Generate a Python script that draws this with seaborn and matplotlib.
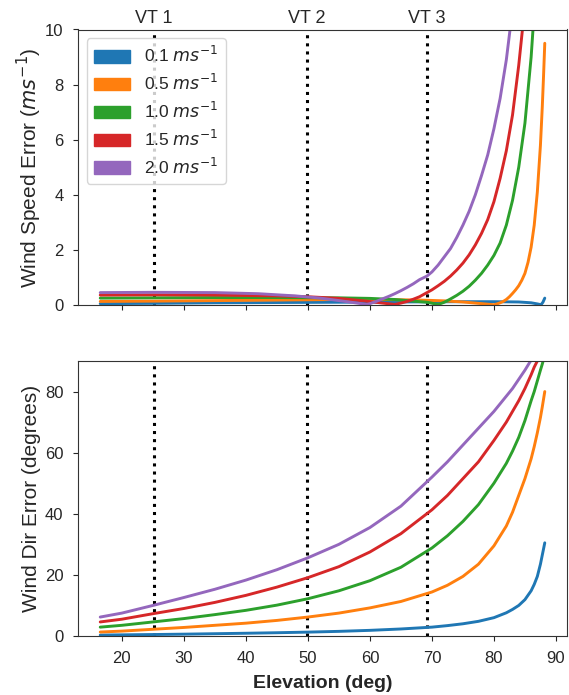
import matplotlib
matplotlib.use("Agg")
import matplotlib.pyplot as plt
import matplotlib.patches as mpatches
import matplotlib.transforms as mtransforms
import seaborn as sns

sns.set_style("ticks")
plt.rcParams['font.family'] = ['Liberation Sans', 'DejaVu Sans']

# ---------------- data ----------------
labels = ["0.1", "0.5", "1.0", "1.5", "2.0"]
colors = ["#1f77b4", "#ff7f0e", "#2ca02c", "#d62728", "#9467bd"]

vt_elev = [25.1, 49.8, 69.2]
vt_labels = ["VT 1", "VT 2", "VT 3"]

# Wind speed error (top panel)
spd_el_01 = [16.5, 25, 35, 45, 55, 65, 75, 80, 84, 86, 87, 87.6, 87.9, 88.2]
spd_01 = [0.05, 0.06, 0.08, 0.09, 0.10, 0.11, 0.12, 0.12, 0.11, 0.08, 0.04, 0.01, 0.10, 0.25]

spd_el_05 = [16.5, 25, 35, 45, 55, 62, 68, 72, 75, 78, 80, 80.5, 81, 81.5, 82, 82.5,
             83, 83.5, 84, 84.5, 85, 85.5, 86, 86.5, 87, 87.5, 87.8, 88.0, 88.2]
spd_05 = [0.13, 0.14, 0.16, 0.18, 0.20, 0.20, 0.18, 0.15, 0.11, 0.05, 0.01, 0.04,
          0.08, 0.13, 0.20, 0.30, 0.42, 0.55, 0.70, 0.90, 1.15, 1.55, 2.1, 2.9, 4.1,
          5.8, 7.2, 8.3, 9.5]

spd_el_10 = [16.5, 25, 35, 45, 55, 60, 64, 67, 69.2, 71, 72, 73, 74, 75, 76, 77, 78,
             79, 80, 81, 82, 83, 84, 85, 86, 86.3, 86.8]
spd_10 = [0.25, 0.26, 0.27, 0.27, 0.26, 0.24, 0.20, 0.14, 0.10, 0.02, 0.10, 0.22,
          0.35, 0.50, 0.68, 0.90, 1.15, 1.45, 1.8, 2.25, 2.9, 3.8, 5.0, 6.6, 9.0,
          10.0, 11.8]

spd_el_15 = [16.5, 25, 35, 45, 50, 55, 59, 62, 64, 65, 66, 67, 68, 69.2, 70, 71, 72,
             73, 74, 75, 76, 77, 78, 79, 80, 81, 82, 83, 84, 84.6, 85.2]
spd_15 = [0.36, 0.37, 0.36, 0.33, 0.30, 0.24, 0.15, 0.07, 0.02, 0.07, 0.13, 0.21,
          0.30, 0.45, 0.55, 0.70, 0.86, 1.05, 1.27, 1.52, 1.82, 2.18, 2.6, 3.1, 3.75,
          4.6, 5.6, 6.9, 8.7, 10.0, 11.5]

spd_el_20 = [16.5, 25, 35, 42, 48, 52, 56, 59.5, 60, 61, 62, 63, 64, 65, 66, 67, 68,
             69.2, 70, 71, 72, 73, 74, 75, 76, 77, 78, 79, 80, 81, 82, 82.6, 83.2]
spd_20 = [0.45, 0.46, 0.45, 0.41, 0.33, 0.25, 0.13, 0.02, 0.05, 0.13, 0.22, 0.31,
          0.41, 0.52, 0.64, 0.77, 0.92, 1.05, 1.2, 1.45, 1.75, 2.05, 2.45, 2.9, 3.4,
          4.0, 4.7, 5.45, 6.4, 7.5, 8.9, 10.0, 11.3]

# Wind direction error (bottom panel)
dir_el = [16.5, 20, 25, 30, 35, 40, 45, 50, 55, 60, 65, 70, 72.5, 75, 77.5, 80, 82,
          83, 84, 85, 86, 86.5, 87, 87.5, 87.8, 88.2]
dir_01 = [0.3, 0.38, 0.48, 0.6, 0.75, 0.9, 1.07, 1.27, 1.52, 1.85, 2.3, 2.9, 3.4,
          4.0, 4.8, 6.0, 7.6, 8.7, 10.0, 11.9, 14.8, 16.9, 19.5, 23.5, 26.5, 30.5]
dir_05 = [1.3, 1.6, 2.2, 2.8, 3.5, 4.2, 5.1, 6.2, 7.5, 9.2, 11.3, 14.4, 16.6, 19.5,
          23.5, 29.5, 36.0, 40.5, 46.0, 51.5, 58.0, 62.0, 66.5, 71.5, 75.0, 80.0]
dir_10 = [2.9, 3.5, 4.6, 5.7, 7.0, 8.4, 10.1, 12.2, 14.8, 18.1, 22.5, 28.8, 32.8,
          37.5, 43.0, 50.0, 56.5, 60.5, 65.0, 70.5, 77.0, 80.0, 83.5, 87.0, 89.0, 92.0]
dir_15 = [4.6, 5.5, 7.3, 9.0, 11.0, 13.3, 16.0, 19.1, 22.7, 27.5, 33.5, 41.3, 46.0,
          51.5, 57.0, 64.0, 70.0, 73.5, 77.0, 81.0, 85.5, 88.0, 90.0, 93.0, 94.5, 96.0]
dir_20 = [6.2, 7.5, 10.0, 12.6, 15.3, 18.3, 21.7, 25.6, 30.0, 35.5, 42.5, 52.0, 57.0,
          62.5, 68.0, 73.5, 78.5, 81.0, 84.0, 87.0, 90.3, 92.0, 94.0, 96.0, 97.0, 99.0]

spd_series = [(spd_el_01, spd_01), (spd_el_05, spd_05), (spd_el_10, spd_10),
              (spd_el_15, spd_15), (spd_el_20, spd_20)]
dir_series = [dir_01, dir_05, dir_10, dir_15, dir_20]

# ---------------- figure ----------------
fig = plt.figure(figsize=(5.69, 6.95), dpi=100)
ax1 = fig.add_axes([78 / 569, 1 - 305 / 695, (567 - 78) / 569, (305 - 29.5) / 695])
ax2 = fig.add_axes([78 / 569, 1 - 636 / 695, (567 - 78) / 569, (636 - 361) / 695],
                   sharex=ax1)

lw = 2.1
for (el, v), c in zip(spd_series, colors):
    sns.lineplot(x=el, y=v, color=c, lw=lw, ax=ax1)
for v, c in zip(dir_series, colors):
    sns.lineplot(x=dir_el, y=v, color=c, lw=lw, ax=ax2)

for ax in (ax1, ax2):
    for x in vt_elev:
        ax.axvline(x, color="black", ls=":", lw=2.2, zorder=1)
    ax.tick_params(labelsize=12, length=3.5, pad=7)
    for sp in ax.spines.values():
        sp.set_color("#333333")

trans = mtransforms.blended_transform_factory(ax1.transData, ax1.transAxes)
for x, t in zip(vt_elev, vt_labels):
    ax1.text(x, 1.01, t, transform=trans, ha="center", va="bottom", fontsize=13)

ax1.set_ylim(0, 10)
ax1.set_yticks([0, 2, 4, 6, 8, 10])
ax2.set_ylim(0, 90)
ax2.set_yticks([0, 20, 40, 60, 80])
ax2.set_xticks([20, 30, 40, 50, 60, 70, 80, 90])
ax1.tick_params(labelbottom=False)

ax1.set_ylabel(r"Wind Speed Error ($ms^{-1}$)", fontsize=15, labelpad=1)
ax2.set_ylabel("Wind Dir Error (degrees)", fontsize=15, labelpad=3)
ax2.set_xlabel("Elevation (deg)", fontsize=14, fontweight="bold", labelpad=7)
ax1.set_xlabel("")

handles = [mpatches.Patch(color=c, label=l + r" $ms^{-1}$") for c, l in zip(colors, labels)]
ax1.legend(handles=handles, loc="upper left", fontsize=12.5, handlelength=2.1,
           handleheight=0.75, labelspacing=0.45)

fig.savefig("out.png", dpi=100)
